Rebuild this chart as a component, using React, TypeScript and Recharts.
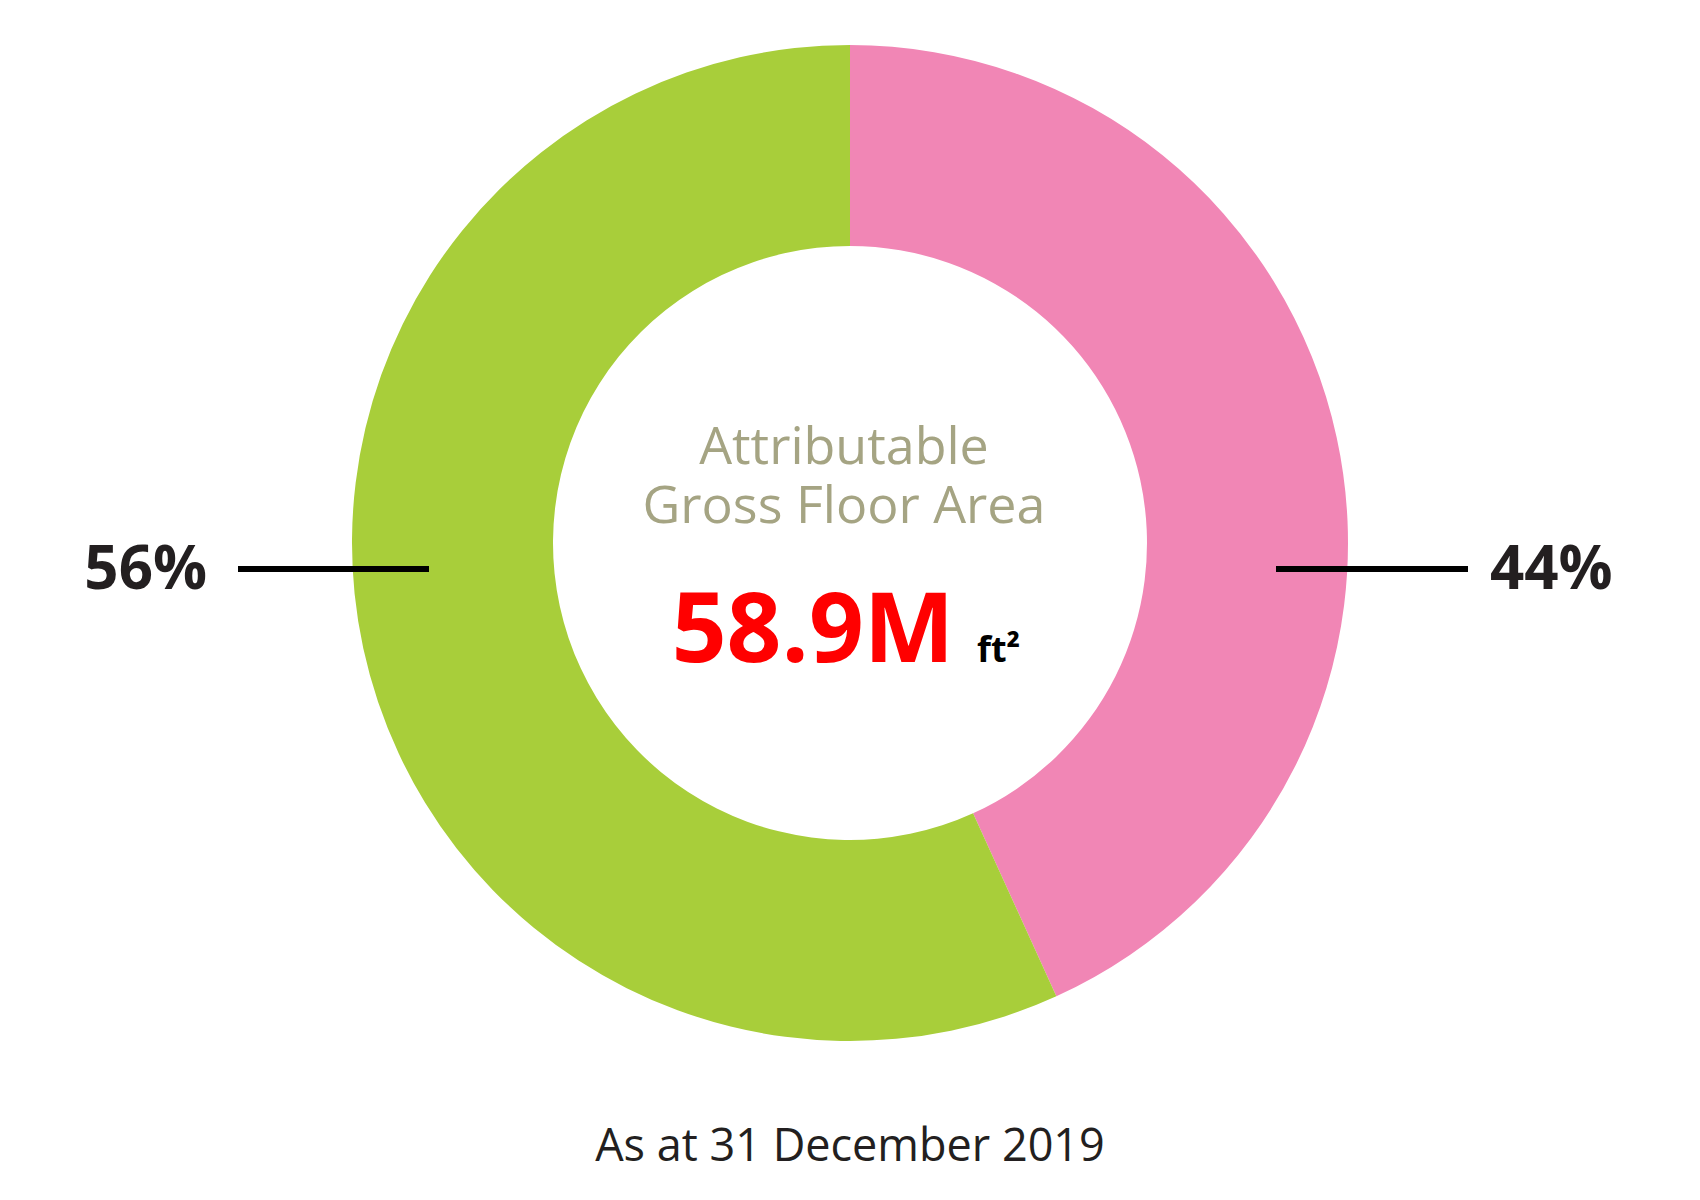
import React from "react";
import { PieChart, Pie, Cell } from "recharts";

const segments = ["Other", "Main"];
const shares = [43.2, 56.8];
const shareLabels = ["44%", "56%"];
const colors = ["#f186b5", "#a8ce3a"];

const titleLines = ["Attributable", "Gross Floor Area"];
const totalValue = "58.9M";
const totalUnit = "ft²";
const footnote = "As at 31 December 2019";

const data = segments.map((name, i) => ({ name, value: shares[i], label: shareLabels[i] }));

const FONT = "'Open Sans', 'Noto Sans', sans-serif";
const CX = 850;
const CY = 543;

function SideLabel(props: any) {
  const { cx, cy, midAngle, outerRadius, index } = props;
  const right = Math.cos((-midAngle * Math.PI) / 180) > 0;
  const y = cy + 26;
  const x1 = right ? cx + outerRadius - 72 : cx - outerRadius - 114;
  const x2 = right ? cx + outerRadius + 120 : cx - outerRadius + 77;
  const tx = right ? cx + outerRadius + 142 : cx - outerRadius - 145;
  return (
    <g>
      <line x1={x1} x2={x2} y1={y} y2={y} stroke="#000" strokeWidth={6} />
      <text
        x={tx}
        y={y + 20}
        textAnchor={right ? "start" : "end"}
        fill="#231f20"
        fontFamily={FONT}
        fontWeight={700}
        fontSize={60}
      >
        {data[index].label}
      </text>
    </g>
  );
}

export default function App() {
  return (
    <div style={{ position: "absolute", left: 0, top: 0, width: 1700, height: 1200, background: "#fff" }}>
      <PieChart width={1700} height={1200} margin={{ top: 0, right: 0, bottom: 0, left: 0 }}>
        <Pie
          data={data}
          dataKey="value"
          cx={CX}
          cy={CY}
          innerRadius={297}
          outerRadius={498}
          startAngle={90}
          endAngle={-270}
          stroke="none"
          label={SideLabel}
          labelLine={false}
          isAnimationActive={false}
        >
          {data.map((d, i) => (
            <Cell key={d.name} fill={colors[i]} />
          ))}
        </Pie>
      </PieChart>
      <svg
        width={1700}
        height={1200}
        style={{ position: "absolute", left: 0, top: 0, pointerEvents: "none" }}
        fontFamily={FONT}
      >
        <text x={CX - 6} y={CY - 79} textAnchor="middle" fill="#a5a483" fontSize={52}>
          {titleLines[0]}
        </text>
        <text x={CX - 6} y={CY - 20} textAnchor="middle" fill="#a5a483" fontSize={52}>
          {titleLines[1]}
        </text>
        <text x={CX - 37} y={CY + 119} textAnchor="middle" fill="#ff0000" fontSize={96} fontWeight={700}>
          {totalValue}
        </text>
        <text x={CX + 127} y={CY + 119} fill="#000" fontSize={36} fontWeight={700}>
          {totalUnit}
        </text>
      </svg>
      <div
        style={{
          position: "absolute",
          left: 0,
          width: 1700,
          top: 1113,
          textAlign: "center",
          fontFamily: FONT,
          fontSize: 45,
          color: "#231f20",
        }}
      >
        {footnote}
      </div>
    </div>
  );
}
